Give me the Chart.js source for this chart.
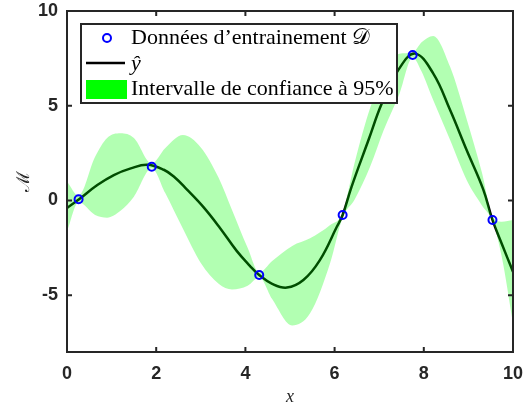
<!DOCTYPE html>
<html lang="fr">
<head>
<meta charset="UTF-8">
<title>Intervalle de confiance</title>
<style>
  html, body { margin: 0; padding: 0; background: #fff; }
</style>
</head>
<body>
<canvas id="chart" width="523" height="408"></canvas>

<script src="https://cdn.jsdelivr.net/npm/chart.js@4.4.1/dist/chart.umd.min.js"></script>
<script>
// donnees d'entrainement
const trainX = [0.26, 1.9, 4.31, 6.18, 7.75, 9.54];
const trainY = [0.06, 1.78, -3.94, -0.77, 7.68, -1.03];

// prediction y chapeau
const meanX = [0, 0.27, 0.68, 1.05, 1.43, 1.8, 2.17, 2.4, 2.68, 3.06, 3.43, 3.8, 4.1, 4.31,
  4.6, 4.93, 5.3, 5.67, 6.05, 6.18, 6.38, 6.76, 7.06, 7.43, 7.8, 8.21, 8.59, 8.96, 9.33,
  9.54, 9.75, 10];
const meanY = [-0.4, 0.06, 0.81, 1.34, 1.69, 1.88, 1.62, 1.25, 0.6, -0.35, -1.45, -2.65, -3.45, -3.94,
  -4.4, -4.6, -4.2, -3.15, -1.39, -0.77, 0.72, 3.19, 5.13, 6.89, 7.75, 6.71, 4.77, 2.66, 0.6,
  -1.03, -2.3, -3.76];

// intervalle de confiance a 95%
const bandX = [0, 0.26, 0.63, 0.9, 1.2, 1.5, 1.9, 2.2, 2.6, 3.0, 3.4, 3.7, 4.05, 4.31, 4.6,
  5.05, 5.45, 5.9, 6.18, 6.45, 6.8, 7.1, 7.45, 7.75, 7.95, 8.21, 8.59, 8.96, 9.3, 9.55, 9.75, 10];
const bandUpper = [1.0, 0.25, 2.3, 3.3, 3.55, 3.3, 1.95, 2.75, 3.45, 2.8, 1.2, -0.5, -2.5, -3.8, -3.2,
  -2.4, -2.0, -1.3, -0.65, 2.0, 4.9, 6.6, 7.75, 7.8, 8.35, 8.68, 7.06, 4.3, 1.5, -0.9, -1.12, -1.03];
const bandLower = [-1.65, -0.1, -0.77, -0.91, -0.55, 0.2, 1.7, 0.4, -1.5, -3.3, -4.4, -4.7, -4.5, -4.05, -5.2,
  -6.6, -5.96, -3.3, -0.9, 0.05, 1.8, 3.7, 5.6, 7.55, 6.8, 5.3, 3.19, 1.08, -0.25, -1.15, -3.0, -6.5];

const xTicks = [0, 2, 4, 6, 8, 10];
const yTicks = [-5, 0, 5, 10];

const ink = '#262626';
const toXY = (xs, ys) => xs.map((x, i) => ({ x: x, y: ys[i] }));

// cadre + graduations vers l'interieur (style matlab)
const frame = {
  id: 'frame',
  afterDatasetsDraw(chart) {
    const { ctx, chartArea: a, scales } = chart;
    ctx.save();
    ctx.strokeStyle = ink;
    ctx.lineWidth = 2;
    ctx.strokeRect(a.left, a.top, a.right - a.left, a.bottom - a.top);
    ctx.beginPath();
    xTicks.forEach(v => {
      const px = scales.x.getPixelForValue(v);
      ctx.moveTo(px, a.bottom); ctx.lineTo(px, a.bottom - 5);
      ctx.moveTo(px, a.top); ctx.lineTo(px, a.top + 5);
    });
    yTicks.forEach(v => {
      const py = scales.y.getPixelForValue(v);
      ctx.moveTo(a.left, py); ctx.lineTo(a.left + 5, py);
      ctx.moveTo(a.right, py); ctx.lineTo(a.right - 5, py);
    });
    ctx.stroke();
    ctx.restore();
  }
};

// legende encadree, dessinee par-dessus
const legendBox = {
  id: 'legendBox',
  afterDatasetsDraw(chart) {
    const ctx = chart.ctx;
    const ds = chart.data.datasets;
    ctx.save();
    ctx.fillStyle = '#fff';
    ctx.fillRect(81, 24, 316, 79);
    ctx.strokeStyle = ink;
    ctx.lineWidth = 2;
    ctx.strokeRect(81, 24, 316, 79);

    ctx.beginPath();
    ctx.arc(107, 38, 4, 0, Math.PI * 2);
    ctx.strokeStyle = '#0000ff';
    ctx.lineWidth = 2;
    ctx.stroke();

    ctx.beginPath();
    ctx.moveTo(86, 63);
    ctx.lineTo(125, 63);
    ctx.strokeStyle = '#000';
    ctx.lineWidth = 2.5;
    ctx.stroke();

    ctx.fillStyle = '#00ff00';
    ctx.fillRect(86, 80, 41, 19);

    ctx.fillStyle = '#000';
    ctx.textBaseline = 'middle';
    ctx.font = '22px "Liberation Serif", "DejaVu Serif", serif';
    ctx.fillText(ds[0].label, 131, 38);
    ctx.fillText(ds[1].label, 131, 89);
    ctx.font = 'italic 22px "Liberation Serif", "DejaVu Serif", serif';
    ctx.fillText(ds[3].label, 131, 64);
    ctx.restore();
  }
};

new Chart('chart', {
  type: 'line',
  data: {
    datasets: [
      {
        label: 'Données d\u2019entrainement \u{1D49F}',
        data: toXY(trainX, trainY),
        showLine: false,
        pointRadius: 4,
        pointBorderWidth: 2,
        pointBorderColor: '#0000ff',
        pointBackgroundColor: 'rgba(0,0,0,0)',
        order: 0
      },
      {
        label: 'Intervalle de confiance à 95%',
        data: toXY(bandX, bandUpper),
        borderColor: 'rgba(0,0,0,0)',
        borderWidth: 0,
        pointRadius: 0,
        backgroundColor: 'rgba(0,255,0,0.3)',
        fill: '+1',
        cubicInterpolationMode: 'monotone',
        order: 1
      },
      {
        label: 'borne inf',
        data: toXY(bandX, bandLower),
        borderColor: 'rgba(0,0,0,0)',
        borderWidth: 0,
        pointRadius: 0,
        fill: false,
        cubicInterpolationMode: 'monotone',
        order: 2
      },
      {
        label: 'ŷ',
        data: toXY(meanX, meanY),
        borderColor: '#000',
        borderWidth: 2.5,
        pointRadius: 0,
        fill: false,
        tension: 0.4,
        order: 3
      }
    ]
  },
  options: {
    responsive: false,
    animation: false,
    devicePixelRatio: 1,
    layout: { padding: { top: 11, right: 10, left: 0, bottom: 0 } },
    plugins: {
      legend: { display: false },
      tooltip: { enabled: false }
    },
    scales: {
      x: {
        type: 'linear',
        min: 0,
        max: 10,
        afterBuildTicks: s => { s.ticks = xTicks.map(v => ({ value: v })); },
        afterFit: s => { s.height = 56; s.paddingLeft = 0; s.paddingRight = 0; },
        grid: { display: false, drawTicks: false },
        border: { display: false },
        ticks: {
          color: ink,
          padding: 11,
          maxRotation: 0,
          autoSkip: false,
          font: { family: 'Liberation Sans', size: 18, weight: 'bold' }
        },
        title: {
          display: true,
          text: 'x',
          color: ink,
          padding: { top: 0, bottom: 0 },
          font: { family: 'Liberation Serif', size: 18, style: 'italic' }
        }
      },
      y: {
        type: 'linear',
        min: -8,
        max: 10,
        afterBuildTicks: s => { s.ticks = yTicks.map(v => ({ value: v })); },
        afterFit: s => { s.width = 67; s.paddingTop = 0; s.paddingBottom = 0; },
        grid: { display: false, drawTicks: false },
        border: { display: false },
        ticks: {
          color: ink,
          padding: 9,
          font: { family: 'Liberation Sans', size: 18, weight: 'bold' }
        },
        title: {
          display: true,
          text: 'ℳ',
          color: ink,
          padding: { top: 14, bottom: 0 },
          font: { family: 'DejaVu Serif', size: 18 }
        }
      }
    }
  },
  plugins: [frame, legendBox]
});
</script>
</body>
</html>
